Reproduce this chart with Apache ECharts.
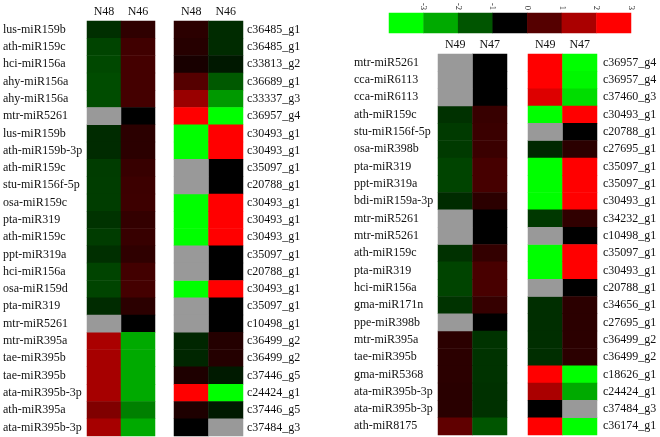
<!DOCTYPE html>
<html><head><meta charset="utf-8">
<script src="https://cdn.jsdelivr.net/npm/echarts@6/dist/echarts.min.js"></script>
<style>html,body{margin:0;padding:0;background:#fff}#c{width:660px;height:437px}</style>
</head><body><div id="c"></div>
<script>
// ---------- Data ----------
const leftMiRNA = ['lus-miR159b','ath-miR159c','hci-miR156a','ahy-miR156a','ahy-miR156a','mtr-miR5261','lus-miR159b','ath-miR159b-3p','ath-miR159c','stu-miR156f-5p','osa-miR159c','pta-miR319','ath-miR159c','ppt-miR319a','hci-miR156a','osa-miR159d','pta-miR319','mtr-miR5261','mtr-miR395a','tae-miR395b','tae-miR395b','ata-miR395b-3p','ath-miR395a','ata-miR395b-3p'];
const leftGene = ['c36485_g1','c36485_g1','c33813_g2','c36689_g1','c33337_g3','c36957_g4','c30493_g1','c30493_g1','c35097_g1','c20788_g1','c30493_g1','c30493_g1','c30493_g1','c35097_g1','c20788_g1','c30493_g1','c35097_g1','c10498_g1','c36499_g2','c36499_g2','c37446_g5','c24424_g1','c37446_g5','c37484_g3'];
const leftCols = ['N48','N46'];
const leftMiR_N48 = [-0.55,-0.8,-0.85,-0.9,-0.9,null,-0.5,-0.5,-0.7,-0.72,-0.72,-0.6,-0.7,-0.55,-0.8,-0.8,-0.5,null,2.0,1.95,1.95,1.95,1.5,1.95];
const leftMiR_N46 = [0.55,0.75,0.8,0.8,0.8,0,0.5,0.5,0.65,0.7,0.72,0.6,0.65,0.55,0.78,0.8,0.5,0,-2.0,-2.0,-2.0,-2.0,-1.5,-2.0];
const leftGene_N48 = [0.5,0.45,0.28,1.0,1.8,3,-3,-3,null,null,-3,-3,-3,null,null,-3,null,null,-0.45,-0.45,0.35,3,0.35,0];
const leftGene_N46 = [-0.5,-0.5,-0.28,-1.05,-1.8,-3,3,3,0,0,3,3,3,0,0,3,0,0,0.42,0.42,-0.3,-3,-0.3,null];

const rightMiRNA = ['mtr-miR5261','cca-miR6113','cca-miR6113','ath-miR159c','stu-miR156f-5p','osa-miR398b','pta-miR319','ppt-miR319a','bdi-miR159a-3p','mtr-miR5261','mtr-miR5261','ath-miR159c','pta-miR319','hci-miR156a','gma-miR171n','ppe-miR398b','mtr-miR395a','tae-miR395b','gma-miR5368','ata-miR395b-3p','ata-miR395b-3p','ath-miR8175'];
const rightGene = ['c36957_g4','c36957_g4','c37460_g3','c30493_g1','c20788_g1','c27695_g1','c35097_g1','c35097_g1','c30493_g1','c34232_g1','c10498_g1','c35097_g1','c30493_g1','c20788_g1','c34656_g1','c27695_g1','c36499_g2','c36499_g2','c18626_g1','c24424_g1','c37484_g3','c36174_g1'];
const rightCols = ['N49','N47'];
const rightMiR_N49 = [null,null,null,-0.58,-0.68,-0.68,-0.8,-0.8,-0.5,null,null,-0.58,-0.8,-0.8,-0.6,null,0.5,0.5,0.5,0.48,0.48,1.13];
const rightMiR_N47 = [0,0,0,0.65,0.68,0.68,0.82,0.82,0.5,0,0,0.6,0.85,0.85,0.62,0,-0.6,-0.6,-0.6,-0.58,-0.58,-1.0];
const rightGene_N49 = [3,3,2.6,-3,null,-0.47,-3,-3,-3,-0.66,null,-3,-3,null,-0.54,-0.54,-0.54,-0.54,3,2.0,0,3];
const rightGene_N47 = [-3,-2.9,-2.6,3,0,0.5,3,3,3,0.56,0,3,3,0,0.5,0.5,0.5,0.5,-3,-2.0,null,-3];

const legendValues = [-3,-2,-1,0,1,2,3];

// ---------- Build ----------
const FONT = "'Liberation Serif','Times New Roman',serif";
function build(cols){
  const main=[], na=[];
  cols.forEach((arr,c)=>arr.forEach((v,i)=>{ if(v===null) na.push([c,i,0]); else main.push([c,i,v]); }));
  return {main, na};
}
const blocks = [
  {cols:[leftMiR_N48,leftMiR_N46], names:leftCols, labels:leftMiRNA, side:'left', grid:{left:86,top:21,width:69,height:415}, margin:84},
  {cols:[leftGene_N48,leftGene_N46], names:leftCols, labels:leftGene, side:'right', grid:{left:174,top:21,width:69,height:415}, margin:4},
  {cols:[rightMiR_N49,rightMiR_N47], names:rightCols, labels:rightMiRNA, side:'left', grid:{left:438,top:54,width:69,height:381}, margin:84},
  {cols:[rightGene_N49,rightGene_N47], names:rightCols, labels:rightGene, side:'right', grid:{left:528,top:54,width:69,height:381}, margin:6}
];
const grid=[], xAxis=[], yAxis=[], series=[];
blocks.forEach((b,k)=>{
  grid.push(b.grid);
  xAxis.push({type:'category', gridIndex:k, position:'top', data:b.names,
    axisLine:{show:false}, axisTick:{show:false},
    axisLabel:{fontFamily:FONT, fontSize:12, color:'#111', margin:3}});
  const idx = b.labels.map((_,i)=>i);
  yAxis.push({type:'category', gridIndex:k, inverse:true, position:b.side, data:idx,
    axisLine:{show:false}, axisTick:{show:false},
    axisLabel:{interval:0, fontFamily:FONT, fontSize:12, color:'#111', margin:b.margin, align:'left',
      formatter:(v,i)=>b.labels[i]}});
  const d = build(b.cols);
  series.push({type:'heatmap', xAxisIndex:k, yAxisIndex:k, data:d.main, itemStyle:{borderWidth:0}, emphasis:{disabled:true}});
  b.naData = d.na;
});
blocks.forEach((b,k)=>{
  series.push({type:'heatmap', xAxisIndex:k, yAxisIndex:k, data:b.naData, itemStyle:{color:'#999999'}, emphasis:{disabled:true}});
});
// legend bar
grid.push({left:389, top:12, width:242, height:21});
xAxis.push({type:'category', gridIndex:4, data:legendValues, show:false});
xAxis.push({type:'value', gridIndex:4, position:'top', min:-4, max:3, interval:1,
  axisLine:{show:false}, axisTick:{show:false}, splitLine:{show:false},
  axisLabel:{rotate:90, fontFamily:FONT, fontSize:8.5, color:'#111', margin:3,
    formatter:v=> v < legendValues[0] ? '' : String(v)}});
yAxis.push({type:'category', gridIndex:4, data:[''], show:false});
series.push({type:'heatmap', xAxisIndex:4, yAxisIndex:4, data:legendValues.map((v,i)=>[i,0,v]), emphasis:{disabled:true}});

const chart = echarts.init(document.getElementById('c'), null, {renderer:'canvas'});
chart.setOption({
  animation:false,
  backgroundColor:'#fff',
  grid, xAxis, yAxis, series,
  visualMap:[{type:'continuous', show:false, min:-3, max:3, seriesIndex:[0,1,2,3,8],
    inRange:{color:['#00ff00','#000000','#ff0000']}}]
});
</script></body></html>
